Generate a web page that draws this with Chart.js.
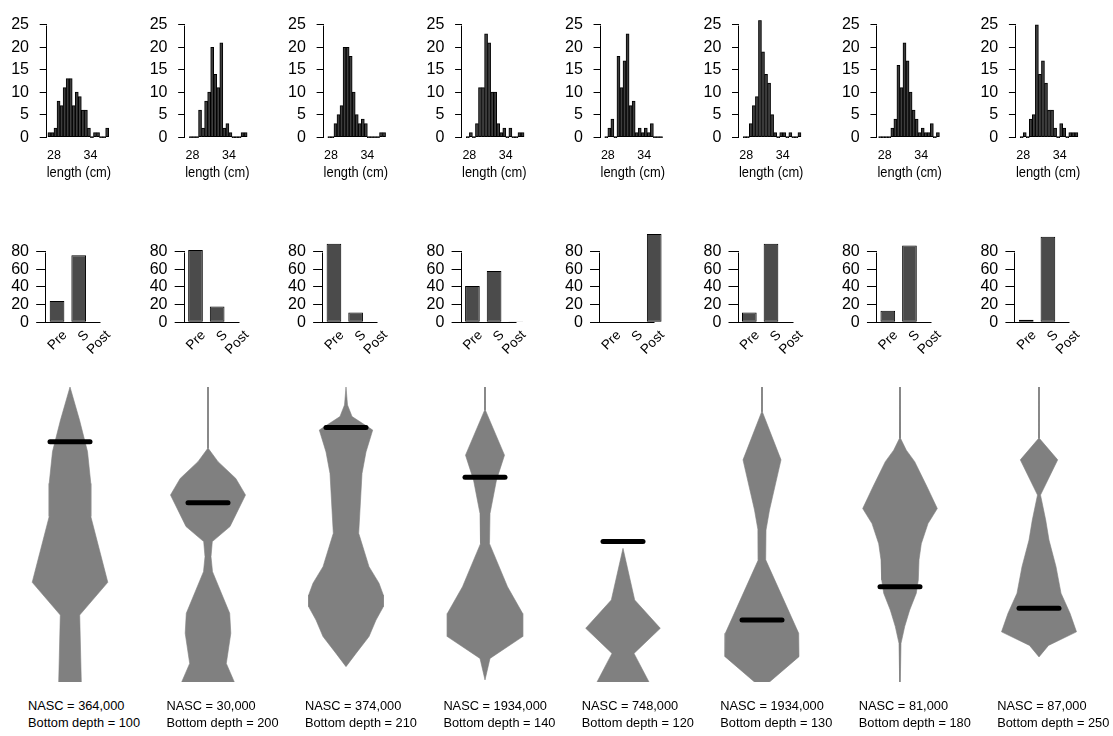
<!DOCTYPE html>
<html>
<head>
<meta charset="utf-8">
<script src="https://cdn.jsdelivr.net/npm/chart.js@4.4.1/dist/chart.umd.min.js"></script>
<style>
  html, body { margin: 0; padding: 0; background: #fff; }
  #page { position: relative; width: 1113px; height: 736px; overflow: hidden; background: #fff; }
  #page canvas { position: absolute; }
  .note { position: absolute; font-family: "Liberation Sans", Arial, sans-serif; font-size: 12.8px; line-height: 16.6px; color: #000; white-space: nowrap; }
</style>
</head>
<body>
<div id="page"></div>
<script>
/* ---------- data ---------- */
// length histograms, 0.5 cm bins starting at histStart
const BIN_WIDTH = 0.5;
const histStart = [27.0, 27.5, 27.5, 27.5, 27.5, 27.5, 27.0, 27.5];
const histCounts = [
  [1, 1, 2, 8, 7, 11, 13, 13, 7, 10, 9, 6, 6, 2, 0, 1, 1, 0, 0, 2],
  [0, 0, 0, 6, 2, 8, 10, 20, 14, 11, 21, 2, 3, 1, 0, 0, 0, 1, 1],
  [0, 0, 3, 5, 7, 20, 20, 18, 10, 5, 3, 4, 3, 0, 0, 0, 0, 1, 1],
  [0, 1, 0, 3, 11, 11, 23, 21, 10, 10, 3, 1, 2, 0, 2, 0, 0, 1, 1],
  [0, 2, 4, 0, 18, 11, 17, 23, 7, 8, 1, 2, 1, 2, 1, 3, 0, 0, 0],
  [0, 0, 3, 7, 9, 26, 19, 14, 12, 5, 1, 0, 1, 1, 0, 1, 0, 0, 1],
  [0, 0, 0, 0, 2, 4, 16, 11, 21, 17, 10, 6, 4, 1, 2, 1, 1, 3, 0, 1],
  [0, 1, 0, 4, 5, 25, 14, 17, 12, 6, 6, 2, 0, 3, 2, 0, 1, 1, 1]
];
const HIST_X_TICKS = [28, 34];
const HIST_Y_TICKS = [0, 5, 10, 15, 20, 25];

// maturity stage shares (%)
const stages = ['Pre', 'S', 'Post'];
const stageShares = [
  [24, 76, 0],
  [82, 18, 0],
  [89, 11, 0],
  [41, 58, 1],
  [0, 0, 100],
  [11, 89, 0],
  [13, 87, 0],
  [3, 97, 0]
];
const SHARE_Y_TICKS = [0, 20, 40, 60, 80];

// vertical distribution: relative depth (% of bottom depth) and half width
const profileDepth = [
  [0, 11.2, 21.9, 32.7, 43.9, 66.2, 77.3, 100],
  [0, 20.8, 25.3, 31.0, 36.6, 47.3, 52.4, 57.5, 62.6, 76.7, 83.5, 93.7, 100],
  [0, 6.1, 10, 14.6, 22, 29.3, 49.6, 60.9, 66.5, 70.5, 74.5, 79, 84.6, 90.3, 94.8],
  [0, 7.8, 23.1, 31.5, 42.9, 53.1, 67.7, 76.8, 84.6, 92.0, 99.3],
  [54.7, 72.2, 81.8, 90.3, 100],
  [0, 8.4, 24.7, 41.7, 48.5, 58.6, 83.5, 91.4, 100],
  [0, 17.4, 21.4, 25.3, 33.8, 41.2, 46.3, 53.1, 58.6, 65.4, 69.9, 75.6, 81.2, 86.9, 100],
  [0, 17.4, 24.7, 36.6, 45.1, 51.9, 60.9, 69.9, 76.7, 83, 87.6, 91.5]
];
const profileWidth = [
  [0, 9.5, 17.5, 20.8, 20.8, 37.8, 9.7, 11.3],
  [0.15, 0.2, 10, 27.8, 37.5, 22, 4.3, 3, 4.5, 21.7, 22.8, 18.3, 26.3],
  [0, 1.5, 6, 26.7, 20, 16, 12.7, 23, 33, 37.3, 37.3, 30, 23, 10, 0],
  [0.15, 0.3, 19.5, 11.5, 5, 4.5, 22.5, 37.7, 37.7, 5, 0],
  [0, 11.7, 37.3, 11, 26],
  [0.15, 0.3, 19, 7.5, 4, 3.7, 36.7, 37, 7.5],
  [0.15, 0.5, 6.3, 14.7, 27, 37.3, 28, 21.3, 19, 18.3, 16.3, 9.7, 4.7, 1.0, 0.3],
  [0.15, 0.3, 18.7, 1.5, 6.7, 10, 17, 22, 31, 37.5, 9.5, 0]
];
const meanDepth = [18.6, 39.2, 13.7, 30.6, 52.4, 79.0, 67.7, 75.0];
const nascK = [364, 30, 374, 1934, 748, 1934, 81, 87];
const bottomDepth = [100, 200, 210, 140, 120, 130, 180, 250];

/* ---------- layout / style ---------- */
const PITCH = 138.46;
const FONT = '"Liberation Sans", Arial, sans-serif';
const VIOLIN_GREY = '#808080';
const BAR_HALF = 20;

Chart.defaults.font.family = FONT;
Chart.defaults.color = '#000';

// R-like axis: line only between first and last tick, plus optional base line
const rAxis = {
  id: 'rAxis',
  afterDraw(chart, args, opts) {
    const ys = chart.scales.y;
    const ctx = chart.ctx;
    const t = ys.ticks;
    const x = Math.round(chart.chartArea.left) - 0.5;
    const y0 = Math.round(ys.getPixelForValue(t[0].value)) + 0.5;
    const y1 = Math.round(ys.getPixelForValue(t[t.length - 1].value)) + 0.5;
    ctx.save();
    ctx.strokeStyle = '#000';
    ctx.lineWidth = 1;
    ctx.beginPath();
    ctx.moveTo(x, y0);
    ctx.lineTo(x, y1);
    if (opts.baseLength) {
      ctx.moveTo(x, y0);
      ctx.lineTo(x + opts.baseLength, y0);
    }
    ctx.stroke();
    ctx.restore();
  }
};

const page = document.getElementById('page');

function addCanvas(left, top, w, h) {
  const c = document.createElement('canvas');
  c.width = w; c.height = h;
  c.style.left = left + 'px';
  c.style.top = top + 'px';
  c.style.width = w + 'px';
  c.style.height = h + 'px';
  page.appendChild(c);
  return c;
}

/* ---------- row 1: length histograms ---------- */
function drawHist(i) {
  const W = 139, H = 182;
  const left = Math.round(i * PITCH);
  const d = i * PITCH - left;
  const cv = addCanvas(left, 0, W, H);
  const pts = histCounts[i].map((c, k) => ({ x: histStart[i] + BIN_WIDTH / 2 + k * BIN_WIDTH, y: c }));
  new Chart(cv, {
    type: 'bar',
    data: {
      datasets: [{
        data: pts,
        backgroundColor: '#3d3d3d',
        borderColor: '#000',
        borderWidth: 1,
        borderSkipped: false,
        barPercentage: 1,
        categoryPercentage: 1,
        minBarLength: 1
      }]
    },
    options: {
      responsive: false,
      animation: false,
      layout: { padding: { top: 9.1, left: 0, bottom: 0, right: W - (46.7 + d) - 64.4 } },
      plugins: { legend: { display: false }, tooltip: { enabled: false }, rAxis: {} },
      scales: {
        x: {
          type: 'linear', min: 26.8, max: 37.4, offset: false,
          grid: { display: false, drawTicks: false }, border: { display: false },
          afterBuildTicks: s => { s.ticks = HIST_X_TICKS.map(v => ({ value: v })); },
          ticks: { font: { size: 12.5 }, padding: 6, maxRotation: 0, autoSkip: false },
          title: { display: true, text: 'length (cm)', font: { size: 14.7 }, padding: 0 },
          afterFit: s => { s.height = H - 141.6; }
        },
        y: {
          min: -1, max: 26,
          afterBuildTicks: s => { s.ticks = HIST_Y_TICKS.map(v => ({ value: v })); },
          grid: { drawOnChartArea: false, drawTicks: true, tickLength: 7, color: '#000' },
          border: { display: false },
          ticks: { font: { size: 16 }, padding: 10.7 },
          afterFit: s => { s.width = 46.7 + d; }
        }
      }
    },
    plugins: [rAxis]
  });
}

/* ---------- row 2: maturity stage bars ---------- */
function drawShares(i) {
  const W = 139, H = 170, TOP = 200;
  const left = Math.round(i * PITCH);
  const d = i * PITCH - left;
  const cv = addCanvas(left, TOP, W, H);
  new Chart(cv, {
    type: 'bar',
    data: {
      labels: stages,
      datasets: [{
        data: stageShares[i],
        backgroundColor: '#4b4b4b',
        borderColor: '#000',
        borderWidth: 1,
        borderSkipped: false,
        categoryPercentage: 1,
        barPercentage: 0.677
      }]
    },
    options: {
      responsive: false,
      animation: false,
      layout: { padding: { top: 30.5, left: 0, bottom: 0, right: W - (46.2 + d) - 65 } },
      plugins: { legend: { display: false }, tooltip: { enabled: false }, rAxis: { baseLength: 55 } },
      scales: {
        x: {
          grid: { display: false, drawTicks: false }, border: { display: false },
          ticks: { font: { size: 13.5 }, minRotation: 45, maxRotation: 45, autoSkip: false, padding: 5, labelOffset: 8 },
          afterFit: s => { s.height = H - (322.3 - TOP); }
        },
        y: {
          min: 0, max: 104,
          afterBuildTicks: s => { s.ticks = SHARE_Y_TICKS.map(v => ({ value: v })); },
          grid: { drawOnChartArea: false, drawTicks: true, tickLength: 10, color: '#000' },
          border: { display: false },
          ticks: { font: { size: 16 }, padding: 7.2 },
          afterFit: s => { s.width = 46.2 + d; }
        }
      }
    },
    plugins: [rAxis]
  });
}

/* ---------- row 3: vertical distribution ---------- */
function drawProfile(i) {
  const W = 139, H = 315, TOP = 377;
  const left = Math.round(0.5 + i * PITCH);
  const cv = addCanvas(left, TOP, W, H);
  const right = profileDepth[i].map((y, k) => ({ x: profileWidth[i][k], y }));
  const leftSide = profileDepth[i].map((y, k) => ({ x: -profileWidth[i][k], y }));
  const edge = { fill: 'origin', backgroundColor: VIOLIN_GREY, borderColor: VIOLIN_GREY, borderWidth: 0.6, pointRadius: 0, tension: 0, order: 1 };
  new Chart(cv, {
    type: 'line',
    data: {
      datasets: [
        Object.assign({ data: right }, edge),
        Object.assign({ data: leftSide }, edge),
        {
          data: [{ x: -BAR_HALF, y: meanDepth[i] }, { x: BAR_HALF, y: meanDepth[i] }],
          fill: false, borderColor: '#000', borderWidth: 5, borderCapStyle: 'round', pointRadius: 0, order: 0
        }
      ]
    },
    options: {
      indexAxis: 'y',
      responsive: false,
      animation: false,
      layout: { padding: { top: 10, bottom: 10, left: 0, right: 0 } },
      plugins: { legend: { display: false }, tooltip: { enabled: false } },
      scales: {
        x: { type: 'linear', display: false, min: -69, max: 70 },
        y: { type: 'linear', display: false, reverse: true, min: 0, max: 100 }
      }
    }
  });

  const note = document.createElement('div');
  note.className = 'note';
  note.style.left = (28 + i * PITCH) + 'px';
  note.style.top = '698.4px';
  note.innerHTML = 'NASC = ' + nascK[i] + ',000<br>Bottom depth = ' + bottomDepth[i];
  page.appendChild(note);
}

for (let i = 0; i < 8; i++) {
  drawHist(i);
  drawShares(i);
  drawProfile(i);
}
</script>
</body>
</html>
